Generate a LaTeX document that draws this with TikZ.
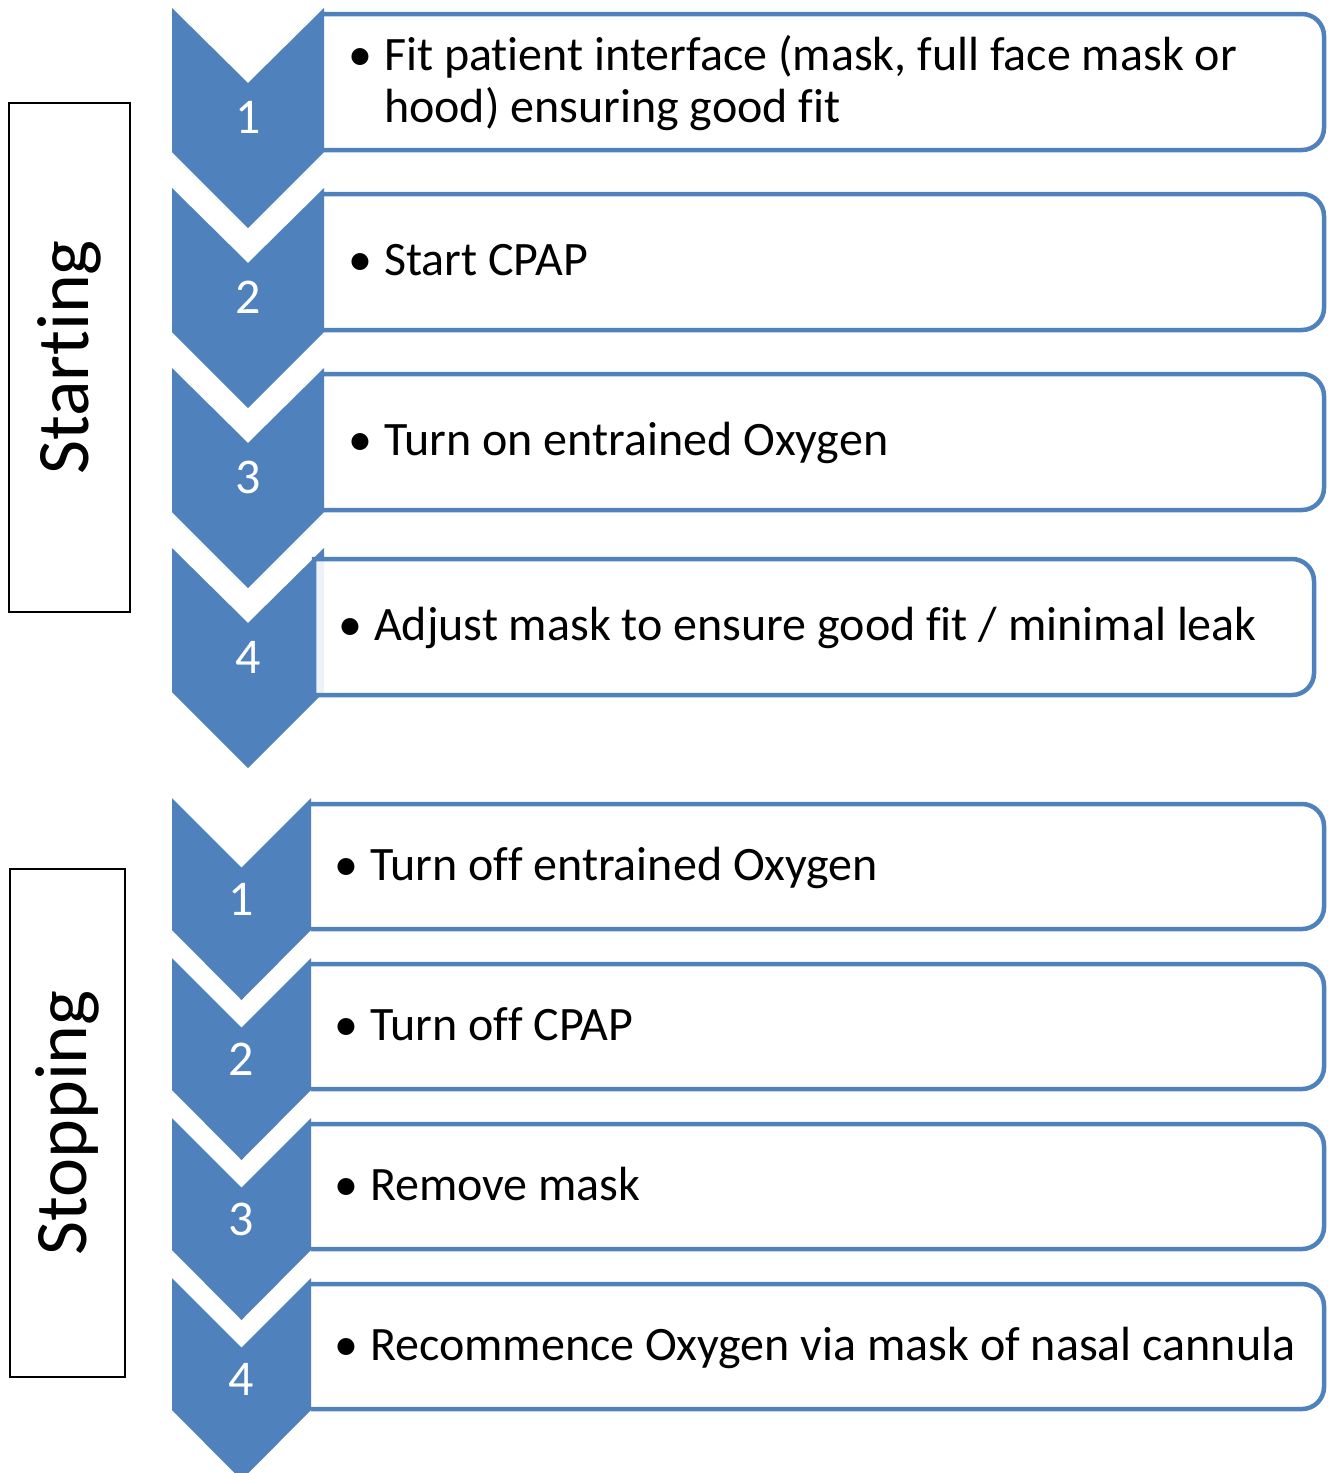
\documentclass[tikz,border=0pt]{standalone}
\usepackage{fontspec}
\setmainfont{Carlito}[Ligatures=NoCommon]
\usepackage{xcolor}
\usepackage{tikz}
\usetikzlibrary{positioning}
\definecolor{chevblue}{HTML}{4F81BD}

\begin{document}
\begin{tikzpicture}[
    x=1pt, y=1pt,
    chevron/.style={fill=chevblue},
    stepbox/.style={draw=chevblue, line width=4.5pt, fill=white},
    stepnum/.style={text=white, inner sep=0pt, font=\fontsize{50}{60}\selectfont},
    item/.style={anchor=base west, inner sep=0pt, align=left, font=\fontsize{48}{52}\selectfont},
    phase/.style={draw, line width=2pt, rotate=90, inner sep=0pt, font=\fontsize{74}{88}\selectfont}
]
\useasboundingbox (0,0) rectangle (1328,-1473);

\node[phase, minimum width=509pt, minimum height=121pt] (starting) at (69.5,-357.5) {Starting};
\node[phase, minimum width=508pt, minimum height=115pt] (stopping) at (67.5,-1123) {Stopping};

\draw[stepbox] (324,-14) -- (1302,-14) arc[start angle=90, end angle=0, radius=22] -- (1324,-128) arc[start angle=0, end angle=-90, radius=22] -- (324,-150);
\draw[stepbox] (324,-194) -- (1302,-194) arc[start angle=90, end angle=0, radius=22] -- (1324,-308) arc[start angle=0, end angle=-90, radius=22] -- (324,-330);
\draw[stepbox] (324,-374) -- (1302,-374) arc[start angle=90, end angle=0, radius=22] -- (1324,-488) arc[start angle=0, end angle=-90, radius=22] -- (324,-510);

\fill[chevron] (172,-8) -- ++(76,-75) -- ++(76,75) -- ++(0,-144) -- ++(-76,-76) -- ++(-76,76) -- cycle;
\fill[chevron] (172,-188) -- ++(76,-75) -- ++(76,75) -- ++(0,-144) -- ++(-76,-76) -- ++(-76,76) -- cycle;
\fill[chevron] (172,-368) -- ++(76,-75) -- ++(76,75) -- ++(0,-144) -- ++(-76,-76) -- ++(-76,76) -- cycle;
\fill[chevron] (172,-548) -- ++(76,-75) -- ++(76,75) -- ++(0,-144) -- ++(-76,-76) -- ++(-76,76) -- cycle;

\draw[stepbox, fill opacity=0.9] (314,-559) -- (1292,-559) arc[start angle=90, end angle=0, radius=22] -- (1314,-673) arc[start angle=0, end angle=-90, radius=22] -- (314,-695) -- cycle;

\draw[stepbox] (311,-804) -- (1302,-804) arc[start angle=90, end angle=0, radius=22] -- (1324,-907) arc[start angle=0, end angle=-90, radius=22] -- (311,-929);
\draw[stepbox] (311,-964) -- (1302,-964) arc[start angle=90, end angle=0, radius=22] -- (1324,-1067) arc[start angle=0, end angle=-90, radius=22] -- (311,-1089);
\draw[stepbox] (311,-1124) -- (1302,-1124) arc[start angle=90, end angle=0, radius=22] -- (1324,-1227) arc[start angle=0, end angle=-90, radius=22] -- (311,-1249);
\draw[stepbox] (311,-1284) -- (1302,-1284) arc[start angle=90, end angle=0, radius=22] -- (1324,-1387) arc[start angle=0, end angle=-90, radius=22] -- (311,-1409);

\fill[chevron] (172,-798) -- ++(69.5,-69.5) -- ++(69.5,69.5) -- ++(0,-132) -- ++(-69.5,-70) -- ++(-69.5,70) -- cycle;
\fill[chevron] (172,-958) -- ++(69.5,-69.5) -- ++(69.5,69.5) -- ++(0,-132) -- ++(-69.5,-70) -- ++(-69.5,70) -- cycle;
\fill[chevron] (172,-1118) -- ++(69.5,-69.5) -- ++(69.5,69.5) -- ++(0,-132) -- ++(-69.5,-70) -- ++(-69.5,70) -- cycle;
\fill[chevron] (172,-1278) -- ++(69.5,-69.5) -- ++(69.5,69.5) -- ++(0,-132) -- ++(-69.5,-70) -- ++(-69.5,70) -- cycle;

\node[stepnum] (start1) at (248,-117.5) {1};
\node[stepnum] (start2) at (248,-297.5) {2};
\node[stepnum] (start3) at (248,-477.5) {3};
\node[stepnum] (start4) at (248,-657.5) {4};
\node[stepnum] (stop1) at (241.5,-899) {1};
\node[stepnum] (stop2) at (241.5,-1059) {2};
\node[stepnum] (stop3) at (241.5,-1219) {3};
\node[stepnum] (stop4) at (241.5,-1379) {4};

\node[item] (fit) at (348,-70) {\begin{tabular}[t]{@{}l@{\hspace{12pt}}l@{}}\textbullet & Fit patient interface (mask, full face mask or\\ & hood) ensuring good fit\end{tabular}};
\node[item] (cpap) at (348,-275.5) {\textbullet\hspace{12pt}Start CPAP};
\node[item] (oxyon) at (348,-455.5) {\textbullet\hspace{12pt}Turn on entrained Oxygen};
\node[item] (adjust) at (338,-640.5) {\textbullet\hspace{12pt}Adjust mask to ensure good fit / minimal leak};
\node[item] (oxyoff) at (334,-880) {\textbullet\hspace{12pt}Turn off entrained Oxygen};
\node[item] (cpapoff) at (334,-1040) {\textbullet\hspace{12pt}Turn off CPAP};
\node[item] (mask) at (334,-1200) {\textbullet\hspace{12pt}Remove mask};
\node[item] (nasal) at (334,-1360) {\textbullet\hspace{12pt}Recommence Oxygen via mask of nasal cannula};

\end{tikzpicture}
\end{document}
